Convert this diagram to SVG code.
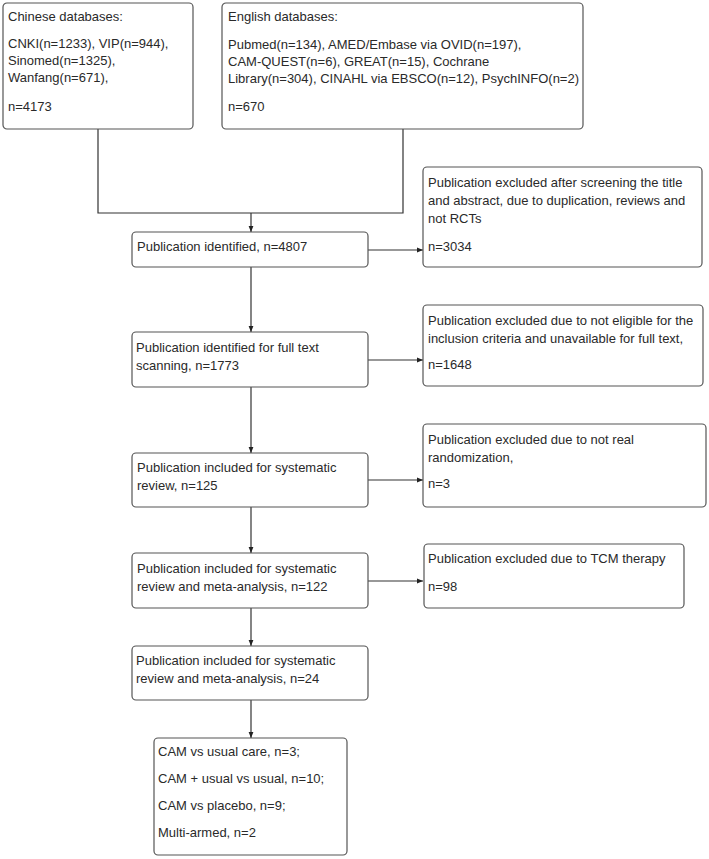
<svg xmlns="http://www.w3.org/2000/svg" width="709" height="859" viewBox="0 0 709 859">
<style>
.box{fill:#fff;stroke:#555;stroke-width:1.2}
text{font-family:"Liberation Sans",Arial,sans-serif;font-size:13px;fill:#2a2a2a}
.c{fill:none;stroke:#333;stroke-width:1.2}
</style>
<defs>
<marker id="ah" viewBox="0 0 10 10" refX="10" refY="5" markerWidth="6" markerHeight="6" markerUnits="userSpaceOnUse" orient="auto">
<path d="M0,1 L10,5 L0,9 z" fill="#222"/>
</marker>
</defs>
<rect width="709" height="859" fill="#fff"/>
<g id="connectors">
<polyline class="c" points="98,129 98,213 403,213 403,129"/>
<line class="c" x1="251" y1="213" x2="251" y2="232" marker-end="url(#ah)"/>
<line class="c" x1="251" y1="267" x2="251" y2="332" marker-end="url(#ah)"/>
<line class="c" x1="251" y1="387" x2="251" y2="453" marker-end="url(#ah)"/>
<line class="c" x1="251" y1="507" x2="251" y2="553" marker-end="url(#ah)"/>
<line class="c" x1="251" y1="608" x2="251" y2="646" marker-end="url(#ah)"/>
<line class="c" x1="251" y1="700" x2="251" y2="738" marker-end="url(#ah)"/>
<line class="c" x1="368" y1="250" x2="423" y2="250" marker-end="url(#ah)"/>
<line class="c" x1="368" y1="360" x2="423" y2="360" marker-end="url(#ah)"/>
<line class="c" x1="368" y1="480" x2="423" y2="480" marker-end="url(#ah)"/>
<line class="c" x1="368" y1="581" x2="423" y2="581" marker-end="url(#ah)"/>
</g>
<g id="chinese">
<rect class="box" x="3" y="3" width="190" height="126" rx="4"/>
<text x="8" y="21">Chinese databases:</text>
<text x="8" y="48">CNKI(n=1233), VIP(n=944),</text>
<text x="8" y="65">Sinomed(n=1325),</text>
<text x="8" y="82">Wanfang(n=671),</text>
<text x="8" y="111">n=4173</text>
</g>
<g id="english">
<rect class="box" x="222" y="3" width="361" height="126" rx="4"/>
<text x="228" y="21">English databases:</text>
<text x="228" y="49">Pubmed(n=134), AMED/Embase via OVID(n=197),</text>
<text x="228" y="66">CAM-QUEST(n=6), GREAT(n=15), Cochrane</text>
<text x="228" y="83">Library(n=304), CINAHL via EBSCO(n=12), PsychINFO(n=2)</text>
<text x="228" y="111">n=670</text>
</g>
<g id="identified">
<rect class="box" x="132" y="232" width="236" height="35" rx="4"/>
<text x="137" y="251">Publication identified, n=4807</text>
</g>
<g id="excluded1">
<rect class="box" x="423" y="167" width="279" height="100" rx="4"/>
<text x="428" y="187">Publication excluded after screening the title</text>
<text x="428" y="205">and abstract, due to duplication, reviews and</text>
<text x="428" y="223">not RCTs</text>
<text x="428" y="251">n=3034</text>
</g>
<g id="fulltext">
<rect class="box" x="132" y="332" width="236" height="55" rx="4"/>
<text x="136" y="352">Publication identified for full text</text>
<text x="136" y="370">scanning, n=1773</text>
</g>
<g id="excluded2">
<rect class="box" x="423" y="305" width="280" height="81" rx="4"/>
<text x="428" y="325">Publication excluded due to not eligible for the</text>
<text x="428" y="343">inclusion criteria and unavailable for full text,</text>
<text x="428" y="369">n=1648</text>
</g>
<g id="review125">
<rect class="box" x="132" y="453" width="236" height="54" rx="4"/>
<text x="137" y="472">Publication included for systematic</text>
<text x="137" y="490">review, n=125</text>
</g>
<g id="excluded3">
<rect class="box" x="423" y="424" width="283" height="83" rx="4"/>
<text x="428" y="444">Publication excluded due to not real</text>
<text x="428" y="462">randomization,</text>
<text x="428" y="488">n=3</text>
</g>
<g id="meta122">
<rect class="box" x="132" y="553" width="236" height="55" rx="4"/>
<text x="137" y="573">Publication included for systematic</text>
<text x="137" y="591">review and meta-analysis, n=122</text>
</g>
<g id="excluded4">
<rect class="box" x="424" y="544" width="260" height="64" rx="4"/>
<text x="428" y="563">Publication excluded due to TCM therapy</text>
<text x="428" y="591">n=98</text>
</g>
<g id="meta24">
<rect class="box" x="132" y="646" width="236" height="54" rx="4"/>
<text x="136" y="665">Publication included for systematic</text>
<text x="136" y="683">review and meta-analysis, n=24</text>
</g>
<g id="groups">
<rect class="box" x="154" y="738" width="193" height="117" rx="4"/>
<text x="158" y="756">CAM vs usual care, n=3;</text>
<text x="158" y="783">CAM + usual vs usual, n=10;</text>
<text x="158" y="810">CAM vs placebo, n=9;</text>
<text x="158" y="837">Multi-armed, n=2</text>
</g>
</svg>
